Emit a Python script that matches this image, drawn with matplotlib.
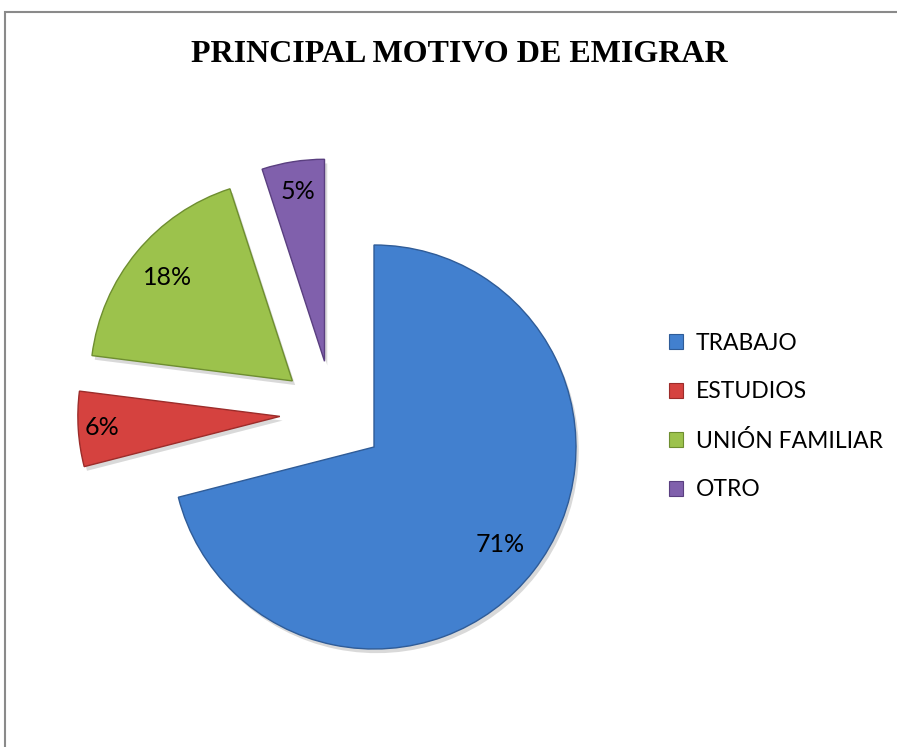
import matplotlib
matplotlib.use("Agg")
import matplotlib.pyplot as plt
from matplotlib.patches import Rectangle, Patch
import matplotlib.patheffects as pe
import numpy as np

# ---- data ----
categories = ["TRABAJO", "ESTUDIOS", "UNIÓN FAMILIAR", "OTRO"]
values = [71, 6, 18, 5]
pct_labels = ["71%", "6%", "18%", "5%"]

# ---- style ----
face_colors = ["#4280CF", "#D5423F", "#9CC24C", "#8060AC"]
edge_colors = ["#2F5C98", "#9C2C2A", "#6E8E30", "#5A3F80"]
explode_dist = [0.0, 0.49, 0.52, 0.49]     # in radius units
explode_dir = [0.0, 162.0, 141.0, 120.0]   # direction of shift (deg)
label_dist = [0.79, 0.88, 0.80, 0.85]

W, H = 897, 747
fig = plt.figure(figsize=(W / 100, H / 100), dpi=100)

# frame
fig.patches.append(Rectangle((5 / W, -0.1), 1.2, 1 - 12 / H + 0.1,
                             transform=fig.transFigure, fill=False,
                             edgecolor="#8a8a8a", linewidth=1.5))

# axes placed so that radius 1 = 202 px, centre at (374, 447) px
R = 202.0
cx, cy = 374.0, 447.0
x0, x1 = -1.6, 1.6
y0, y1 = -1.2, 1.6
left = (cx + x0 * R) / W
bottom = (H - (cy - y0 * R)) / H
ax = fig.add_axes([left, bottom, (x1 - x0) * R / W, (y1 - y0) * R / H])

wedges, _ = ax.pie(values, startangle=90, counterclock=False, radius=1,
                   colors=face_colors,
                   wedgeprops=dict(linewidth=1.0))
for w, ec, d, a, ld, txt in zip(wedges, edge_colors, explode_dist,
                                explode_dir, label_dist, pct_labels):
    dx = d * np.cos(np.radians(a))
    dy = d * np.sin(np.radians(a))
    w.set_center((dx, dy))
    w.set_edgecolor(ec)
    w.set_path_effects([pe.SimplePatchShadow(offset=(2, -3), alpha=0.22,
                                             shadow_rgbFace="#555555"),
                        pe.Normal()])
    mid = np.radians((w.theta1 + w.theta2) / 2)
    ax.text(dx + ld * np.cos(mid), dy + ld * np.sin(mid), txt,
            ha="center", va="center", fontsize=18, family="Lato",
            color="black")

ax.set_xlim(x0, x1)
ax.set_ylim(y0, y1)
ax.set_aspect("equal")
ax.axis("off")

# title
fig.text(459 / W, 1 - 55 / H, "PRINCIPAL MOTIVO DE EMIGRAR",
         ha="center", va="center", fontsize=23, fontweight="bold",
         family="Liberation Serif")

# legend
handles = [Patch(facecolor=fc, edgecolor=ec, linewidth=0.8)
           for fc, ec in zip(face_colors, edge_colors)]
fig.legend(handles, categories, loc="center left",
           bbox_to_anchor=(669 / W, (H - 416.5) / H),
           frameon=False, prop=dict(family="Lato", size=16.5),
           handlelength=0.62, handleheight=0.62, handletextpad=0.55,
           labelspacing=1.2, borderpad=0, borderaxespad=0)

fig.savefig("out.png", dpi=100)
